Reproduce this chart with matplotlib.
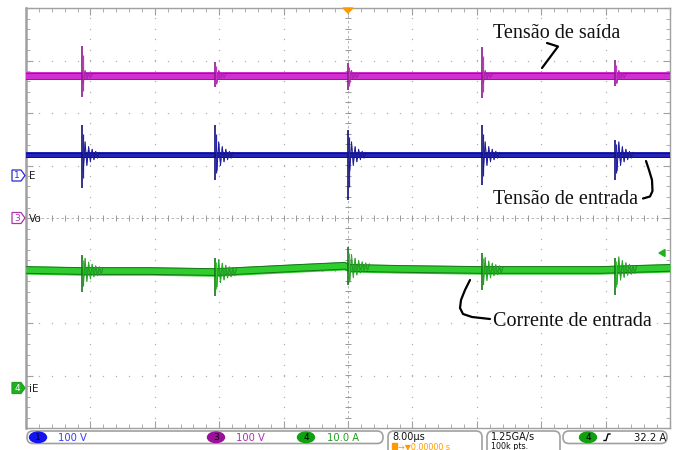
import matplotlib
matplotlib.use("Agg")
import matplotlib.pyplot as plt
from matplotlib.patches import FancyBboxPatch, Ellipse, Polygon
from matplotlib.ticker import MultipleLocator
import numpy as np

# scope screen: 10 x 8 divisions, 8 us/div, trigger at the centre
us_per_div = 8.0
t_span = [-40.0, 40.0]

# switching events (us from trigger)
spike_t = [-33.1, -16.5, 0.0, 16.6, 33.2]

# trace levels in screen divisions
vo_level = 2.71
e_level = 1.20
ie_drift_t = [-40.0, -33.0, -24.6, -16.5, -6.0, -0.4, 0.2, 6.5, 16.4, 31.3, 40.0]
ie_drift = [-0.99, -1.01, -1.01, -1.03, -0.95, -0.91, -0.95, -0.97, -0.99, -0.99, -0.95]

# peak / trough of each switching spike (divisions)
vo_peak = [3.27, 2.98, 2.95, 3.25, 3.01]
vo_trough = [2.30, 2.49, 2.44, 2.28, 2.51]
e_peak = [1.77, 1.77, 1.68, 1.77, 1.49]
e_trough = [0.57, 0.72, 0.34, 0.63, 0.72]
ie_peak = [-0.70, -0.76, -0.55, -0.67, -0.76]
ie_trough = [-1.41, -1.49, -1.28, -1.37, -1.47]

# ringing after each spike, half height in divisions, one entry per half cycle
vo_ring = [0.14, 0.10, 0.07, 0.05, 0.04, 0.03]
e_ring = [0.30, 0.25, 0.20, 0.16, 0.13, 0.11, 0.09, 0.07, 0.06, 0.05]
ie_ring = [0.28, 0.24, 0.20, 0.17, 0.15, 0.13, 0.11, 0.10, 0.09, 0.08, 0.07, 0.06]
ring_step = 0.22  # us per half cycle

# status bar readouts
ch_labels = ["1", "3", "4"]
ch_scales = ["100 V", "100 V", "10.0 A"]
ch_colors = ["#3a3aff", "#b030b0", "#20a020"]
ch_fills = ["#1414f0", "#9a109a", "#10a010"]
timebase = "8.00µs"
delay = "0.00000 s"
rate = ["1.25GA/s", "100k pts."]
trig_ch = "4"
trig_level = "32.2 A"

W, H = 675, 450
fig = plt.figure(figsize=(W / 100, H / 100), dpi=100)
ax = fig.add_axes([26 / W, 1 - 428 / H, 644 / W, 420 / H])
ax.set_xlim(t_span)
ax.set_ylim(-4, 4)

# graticule
ax.xaxis.set_major_locator(MultipleLocator(us_per_div))
ax.xaxis.set_minor_locator(MultipleLocator(us_per_div / 5))
ax.yaxis.set_major_locator(MultipleLocator(1))
ax.yaxis.set_minor_locator(MultipleLocator(0.2))
ax.tick_params(which="both", direction="in", top=True, right=True,
               labelbottom=False, labelleft=False, color="#a0a0a0")
ax.tick_params(which="major", length=5, width=0.8)
ax.tick_params(which="minor", length=3, width=0.6)
for side, sp in ax.spines.items():
    sp.set_color("#a0a0a0")
    sp.set_linewidth(1.8 if side == "left" else 1.0)

dots_y = np.arange(-4, 4.01, 0.2)
dots_x = np.arange(-40, 40.01, us_per_div / 5)
for gx in np.arange(-32, 33, us_per_div):
    if gx != 0:
        ax.plot(np.full_like(dots_y, gx), dots_y, ls="none", marker="s",
                ms=0.9, mew=0, color="#b0b0b0", zorder=1)
for gy in range(-3, 4):
    if gy != 0:
        ax.plot(dots_x, np.full_like(dots_x, gy), ls="none", marker="s",
                ms=0.9, mew=0, color="#b0b0b0", zorder=1)
ax.axhline(0, color="#a8a8a8", lw=0.6, ls=(0, (3, 3)), zorder=1)
ax.axvline(0, color="#a8a8a8", lw=0.6, ls=(0, (3, 3)), zorder=1)
ax.plot(dots_x, np.zeros_like(dots_x), ls="none", marker="|", ms=4,
        mew=0.7, color="#999999", zorder=1)
ax.plot(np.zeros_like(dots_y), dots_y, ls="none", marker="_", ms=4,
        mew=0.7, color="#999999", zorder=1)


def draw_trace(t, level, half, band, edge, peaks, troughs, ring):
    level = np.asarray(level, dtype=float)
    ax.fill_between(t, level - half, level + half, color=band, lw=0, zorder=3)
    ax.plot(t, level + half * 0.8, color=edge, lw=0.7, zorder=3)
    ax.plot(t, level - half * 0.8, color=edge, lw=0.7, zorder=3)
    for ts, hi, lo in zip(spike_t, peaks, troughs):
        base = np.interp(ts, t, level)
        ax.vlines(ts, lo, hi, color=edge, lw=1.2, zorder=4)
        ax.vlines(ts + 0.12, base + (lo - base) * 0.7, base + (hi - base) * 0.7,
                  color=band, lw=0.9, zorder=4)
        # decaying oscillation after the edge
        rt = [ts + ring_step * (k + 1) for k in range(len(ring))]
        ry = [base + (r if k % 2 else -r) for k, r in enumerate(ring)]
        ax.plot(rt, ry, color=edge, lw=0.7, zorder=4)
        ax.plot(rt, ry, color=band, lw=0.4, alpha=0.8, zorder=4)


draw_trace(t_span, [vo_level, vo_level], 0.07, "#d030d0", "#8c1a8c",
           vo_peak, vo_trough, vo_ring)
draw_trace(t_span, [e_level, e_level], 0.05, "#2626b4", "#101078",
           e_peak, e_trough, e_ring)
draw_trace(ie_drift_t, ie_drift, 0.08, "#30cc30", "#157515",
           ie_peak, ie_trough, ie_ring)

# overlay in pixel coordinates for markers, notes and the status bar
ov = fig.add_axes([0, 0, 1, 1], zorder=5)
ov.set_xlim(0, W)
ov.set_ylim(H, 0)
ov.axis("off")
ov.patch.set_alpha(0)

sans = "DejaVu Sans"
serif = "Liberation Serif"

# trigger position and trigger level markers
ov.add_patch(Polygon([(343, 8), (353, 8), (348, 13)], closed=True,
                     color="#ff9a00", zorder=6))
ov.add_patch(Polygon([(659, 253), (665, 249.5), (665, 256.5)], closed=True,
                     color="#20b020", zorder=6))

# channel ground markers on the left
marks = [("1", 175.5, "E", "#2a2ad0", "white"),
         ("3", 218.0, "Vo", "#b030b0", "white"),
         ("4", 388.0, "iE", "#20a020", "#20b020")]
for num, y, name, col, fill in marks:
    ov.add_patch(Polygon([(12, y - 5.5), (21, y - 5.5), (25, y), (21, y + 5.5),
                          (12, y + 5.5)], closed=True, fc=fill, ec=col, lw=0.9))
    ov.text(17, y + 0.5, num, color=col if fill == "white" else "white",
            fontsize=6.5, ha="center", va="center", family=sans)
    ov.text(28.5, y + 0.5, name, color="#202020", fontsize=7.5,
            ha="left", va="center", family=sans)

# annotations
ov.text(493, 38, "Tensão de saída", family=serif, fontsize=14.5,
        color="#111111", va="baseline")
ov.plot([547, 558, 542], [43, 46.5, 68], color="black", lw=1.6,
        solid_capstyle="round", solid_joinstyle="round")
ov.text(493, 204, "Tensão de entrada", family=serif, fontsize=14.5,
        color="#111111", va="baseline")
ov.plot([646, 649, 652, 652.5, 650, 643], [161, 170, 180, 191, 196.5, 198.5],
        color="black", lw=1.6, solid_capstyle="round")
ov.text(493, 326, "Corrente de entrada", family=serif, fontsize=14.5,
        color="#111111", va="baseline")
ov.plot([470, 465, 461, 460, 463, 472, 490], [280, 290, 300, 308, 314, 317, 319],
        color="black", lw=1.6, solid_capstyle="round")

# status bar
box_kw = dict(boxstyle="round,pad=0,rounding_size=6", fc="white",
              ec="#a0a0a0", lw=1.2)
ov.add_patch(FancyBboxPatch((27, 431), 356, 12.5, **box_kw))
ov.add_patch(FancyBboxPatch((388, 431), 94, 26, **box_kw))
ov.add_patch(FancyBboxPatch((487, 431), 73, 26, **box_kw))
ov.add_patch(FancyBboxPatch((563, 431), 104, 12.5, **box_kw))

for cx, tx, lab, txt, col, fill in zip([38, 216, 306], [58, 236, 327],
                                       ch_labels, ch_scales, ch_colors, ch_fills):
    ov.add_patch(Ellipse((cx, 437.3), 17, 10.5, color=fill))
    ov.text(cx, 437.8, lab, fontsize=6.5, ha="center", va="center",
            family=sans, color="black")
    ov.text(tx, 437.8, txt, fontsize=7.2, ha="left", va="center",
            family=sans, color=col)

ov.text(392, 437.0, timebase, fontsize=7.0, ha="left", va="center",
        family=sans, color="#111111")
ov.add_patch(Polygon([(392, 443), (397, 443), (397, 449), (392, 449)],
                     closed=True, color="#ff9a00"))
ov.text(398, 442.3, "\u2192\u25bc" + delay, fontsize=5.8, ha="left", va="top",
        family=sans, color="#ff9a00")
ov.text(491, 437.0, rate[0], fontsize=7.0, ha="left", va="center",
        family=sans, color="#111111")
ov.text(491, 442.3, rate[1], fontsize=5.8, ha="left", va="top",
        family=sans, color="#111111")

ov.add_patch(Ellipse((588, 437.3), 17, 10.5, color="#10a010"))
ov.text(588, 437.8, trig_ch, fontsize=6.5, ha="center", va="center",
        family=sans, color="black")
ov.plot([604, 606, 608, 610], [440.5, 440.5, 434, 434], color="black", lw=1)
ov.text(666, 437.8, trig_level, fontsize=7.2, ha="right", va="center",
        family=sans, color="#111111")

fig.savefig("out.png", dpi=100, facecolor="white")
